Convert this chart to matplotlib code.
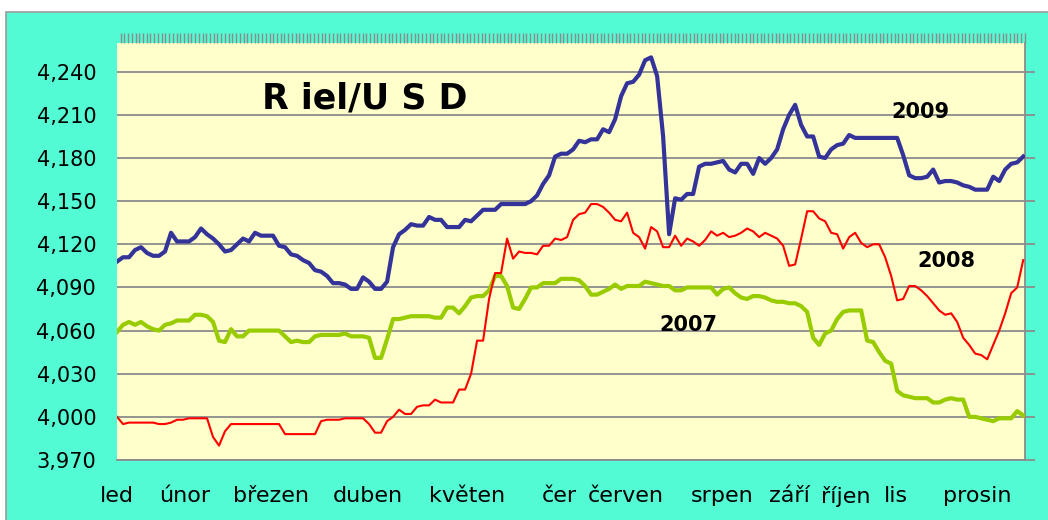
import numpy as np
import matplotlib
matplotlib.use('Agg')
import matplotlib.pyplot as plt
from matplotlib.patches import Rectangle
from matplotlib.ticker import StrMethodFormatter, MultipleLocator

# Riel/USD daily rate, sampled along the year (equal spacing)
rate_2009 = [4108, 4111, 4111, 4116, 4118, 4114, 4112, 4112, 4115, 4128,
             4122, 4122, 4122, 4125, 4131, 4127, 4124, 4120, 4115, 4116,
             4120, 4124, 4122, 4128, 4126, 4126, 4126, 4119, 4118, 4113,
             4112, 4109, 4107, 4102, 4101, 4098, 4093, 4093, 4092, 4089,
             4089, 4097, 4094, 4089, 4089, 4094, 4118, 4127, 4130, 4134,
             4133, 4133, 4139, 4137, 4137, 4132, 4132, 4132, 4137, 4136,
             4140, 4144, 4144, 4144, 4148, 4148, 4148, 4148, 4148, 4150,
             4154, 4162, 4168, 4181, 4183, 4183, 4186, 4192, 4191, 4193,
             4193, 4200, 4198, 4207, 4223, 4232, 4233, 4238, 4248, 4250,
             4237, 4195, 4127, 4152, 4151, 4155, 4155, 4174, 4176, 4176,
             4177, 4178, 4172, 4170, 4176, 4176, 4169, 4180, 4176, 4180,
             4186, 4200, 4210, 4217, 4203, 4195, 4195, 4181, 4180, 4186,
             4189, 4190, 4196, 4194, 4194, 4194, 4194, 4194, 4194, 4194,
             4194, 4182, 4168, 4166, 4166, 4167, 4172, 4163, 4164, 4164,
             4163, 4161, 4160, 4158, 4158, 4158, 4167, 4164, 4172, 4176,
             4177, 4181]

rate_2008 = [4000, 3995, 3996, 3996, 3996, 3996, 3996, 3995, 3995, 3996,
             3998, 3998, 3999, 3999, 3999, 3999, 3986, 3980, 3990, 3995,
             3995, 3995, 3995, 3995, 3995, 3995, 3995, 3995, 3988, 3988,
             3988, 3988, 3988, 3988, 3997, 3998, 3998, 3998, 3999, 3999,
             3999, 3999, 3995, 3989, 3989, 3997, 4000, 4005, 4002, 4002,
             4007, 4008, 4008, 4012, 4010, 4010, 4010, 4019, 4019, 4030,
             4053, 4053, 4082, 4100, 4100, 4124, 4110, 4115, 4114, 4114,
             4113, 4119, 4119, 4124, 4123, 4125, 4137, 4141, 4142, 4148,
             4148, 4146, 4142, 4137, 4136, 4142, 4128, 4125, 4117, 4132,
             4129, 4118, 4118, 4126, 4119, 4124, 4122, 4119, 4123, 4129,
             4126, 4128, 4125, 4126, 4128, 4131, 4129, 4125, 4128, 4126,
             4124, 4119, 4105, 4106, 4124, 4143, 4143, 4138, 4136, 4128,
             4127, 4117, 4125, 4128, 4121, 4118, 4120, 4120, 4111, 4098,
             4081, 4082, 4091, 4091, 4088, 4084, 4079, 4074, 4071, 4072,
             4066, 4055, 4050, 4044, 4043, 4040, 4050, 4060, 4072, 4086,
             4090, 4109]

rate_2007 = [4059, 4064, 4066, 4064, 4066, 4063, 4061, 4060, 4064, 4065,
             4067, 4067, 4067, 4071, 4071, 4070, 4066, 4053, 4052, 4061,
             4056, 4056, 4060, 4060, 4060, 4060, 4060, 4060, 4056, 4052,
             4053, 4052, 4052, 4056, 4057, 4057, 4057, 4057, 4058, 4056,
             4056, 4056, 4055, 4041, 4041, 4054, 4068, 4068, 4069, 4070,
             4070, 4070, 4070, 4069, 4069, 4076, 4076, 4072, 4077, 4083,
             4084, 4084, 4088, 4098, 4098, 4091, 4076, 4075, 4082, 4090,
             4090, 4093, 4093, 4093, 4096, 4096, 4096, 4095, 4091, 4085,
             4085, 4087, 4089, 4092, 4089, 4091, 4091, 4091, 4094, 4093,
             4092, 4091, 4091, 4088, 4088, 4090, 4090, 4090, 4090, 4090,
             4085, 4089, 4090, 4086, 4083, 4082, 4084, 4084, 4083, 4081,
             4080, 4080, 4079, 4079, 4077, 4073, 4055, 4050, 4058, 4060,
             4068, 4073, 4074, 4074, 4074, 4053, 4052, 4045, 4039, 4037,
             4018, 4015, 4014, 4013, 4013, 4013, 4010, 4010, 4012, 4013,
             4012, 4012, 4000, 4000, 3999, 3998, 3997, 3999, 3999, 3999,
             4004, 4001]

month_labels = ['led', 'únor', 'březen', 'duben', 'květen', 'čer', 'červen',
                'srpen', 'září', 'říjen', 'lis', 'prosin']
month_pos = [0, 11.3, 25.7, 41.8, 58.3, 73.7, 84.8, 100.8, 112, 121.5, 129.8, 143.3]

y_ticks = [3970, 4000, 4030, 4060, 4090, 4120, 4150, 4180, 4210, 4240]

GREY = '#8c8c8c'

def main():
    days = np.arange(len(rate_2009))

    fig = plt.figure(figsize=(10.48, 5.2), dpi=100)
    fig.patch.set_facecolor('white')
    fig.patches.append(Rectangle((6 / 1048, -0.01), 1.0, 1 - 12 / 520 + 0.01,
                                 transform=fig.transFigure, facecolor='#52FBD3',
                                 edgecolor='#9a9a9a', linewidth=1.2, zorder=-10))

    ax = fig.add_axes([117 / 1048, 1 - 460 / 520, 908 / 1048, 417 / 520])
    ax.set_facecolor('#FFFFCC')

    ax.plot(days, rate_2007, '-', color='#99CC00', linewidth=3.0, zorder=3)
    ax.plot(days, rate_2008, '-', color='#FF0000', linewidth=1.5, zorder=4)
    ax.plot(days, rate_2009, '-', color='#333399', linewidth=3.0, zorder=5)

    ax.set_xlim(0, 151.3)
    ax.set_ylim(3970, 4260)
    ax.set_yticks(y_ticks)
    ax.yaxis.set_major_formatter(StrMethodFormatter('{x:,.0f}'))
    ax.grid(axis='y', color=GREY, linewidth=1.3, zorder=1)
    ax.set_axisbelow(True)

    # y axis: labels on the left, grey outward ticks on the right
    ax.tick_params(axis='y', which='major', left=False, right=True, direction='out',
                   length=7, width=1.3, color=GREY, labelsize=15, pad=8)

    # x axis: month names below, dense ticks along the top
    ax.set_xticks(month_pos)
    ax.set_xticklabels(month_labels)
    ax.xaxis.set_minor_locator(MultipleLocator(0.62))
    ax.tick_params(axis='x', which='major', bottom=False, top=False,
                   labelsize=16, pad=15)
    ax.tick_params(axis='x', which='minor', bottom=False, top=True, direction='out',
                   length=7, width=1.0, color=GREY)

    for side in ['left', 'top']:
        ax.spines[side].set_visible(False)
    for side in ['right', 'bottom']:
        ax.spines[side].set_color(GREY)
        ax.spines[side].set_linewidth(1.3)

    ax.text(0.273, 0.868, 'R iel/U S D', transform=ax.transAxes, fontsize=25,
            fontweight='bold', ha='center', va='center')
    ax.text(0.885, 0.834, '2009', transform=ax.transAxes, fontsize=15,
            fontweight='bold', ha='center', va='center')
    ax.text(0.913, 0.477, '2008', transform=ax.transAxes, fontsize=15,
            fontweight='bold', ha='center', va='center')
    ax.text(0.629, 0.324, '2007', transform=ax.transAxes, fontsize=15,
            fontweight='bold', ha='center', va='center')

    fig.savefig('out.png', dpi=100)

if __name__ == '__main__':
    main()
